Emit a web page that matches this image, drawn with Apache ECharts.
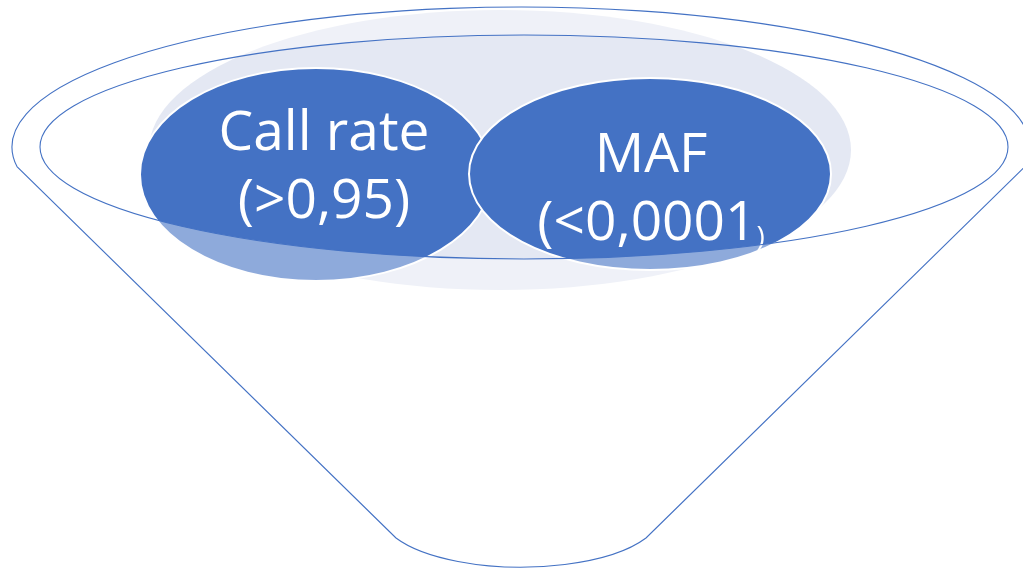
<!DOCTYPE html>
<html>
<head>
<meta charset="utf-8">
<script src="https://cdn.jsdelivr.net/npm/echarts@6/dist/echarts.min.js"></script>
<style>
  html, body { margin: 0; padding: 0; background: #ffffff; }
  #chart { width: 1023px; height: 569px; }
</style>
</head>
<body>
<div id="chart"></div>
<script>
// Filters applied in the funnel
const filterNames = ['Call rate', 'MAF'];
const filterThresholds = ['(>0,95', '(<0,0001'];
const thresholdClose = [')', ')'];

// Layout of the drawing, expressed in units of a hidden 1023 x 569 plane
const PLANE_W = 1023;
const PLANE_H = 569;
const haloShape = { cx: 500, cy: 150, rx: 351, ry: 140 };
const bubbleShapes = [
  { cx: 316, cy: 174.5, rx: 176, ry: 106.5 },
  { cx: 650, cy: 174, rx: 181, ry: 96 }
];
const labelCenters = [[324, 168], [651, 190]];
const closeParenSmall = [false, true];
const rimOuter = { cx: 521, cy: 147, rx: 509, ry: 140 };
const rimInner = { cx: 524, cy: 147, rx: 484, ry: 112 };
const cone = { leftTopX: 17, rightTopX: 1025, leftBottomX: 396, rightBottomX: 646, bottomY: 538, baseRx: 140, baseRy: 53 };

const BLUE = '#4472C4';
const HALO = '#E4E8F3';
const FONT = '"Open Sans", "Noto Sans", sans-serif';

const chart = echarts.init(document.getElementById('chart'), null, { renderer: 'canvas' });

function ellipseYBelow(e, x) {
  const t = (x - e.cx) / e.rx;
  return e.cy + e.ry * Math.sqrt(Math.max(0, 1 - t * t));
}

function renderHalo(params, api) {
  const c = api.coord([haloShape.cx, haloShape.cy]);
  const s = api.size([haloShape.rx * 2, haloShape.ry * 2]);
  return {
    type: 'ellipse',
    shape: { cx: c[0], cy: c[1], rx: s[0] / 2, ry: s[1] / 2 },
    style: { fill: HALO, stroke: null }
  };
}

function renderBubble(params, api) {
  const i = params.dataIndex;
  const e = bubbleShapes[i];
  const c = api.coord([e.cx, e.cy]);
  const s = api.size([e.rx * 2, e.ry * 2]);
  const lc = api.coord(labelCenters[i]);
  const close = closeParenSmall[i] ? '{s|' + thresholdClose[i] + '}' : thresholdClose[i];
  return {
    type: 'group',
    children: [
      {
        type: 'ellipse',
        shape: { cx: c[0], cy: c[1], rx: s[0] / 2, ry: s[1] / 2 },
        style: { fill: BLUE, stroke: '#ffffff', lineWidth: 2 }
      },
      {
        type: 'text',
        x: lc[0],
        y: lc[1],
        style: {
          text: filterNames[i] + '\n' + filterThresholds[i] + close,
          fill: '#ffffff',
          font: '55px ' + FONT,
          align: 'center',
          verticalAlign: 'middle',
          lineHeight: 68,
          rich: {
            s: { fontSize: 28, fontFamily: FONT, fill: '#ffffff', lineHeight: 68, verticalAlign: 'bottom', padding: [0, 0, 6, 0] }
          }
        }
      }
    ]
  };
}

function renderFunnel(params, api) {
  const p = (x, y) => api.coord([x, y]);
  const sz = (rx, ry) => { const s = api.size([rx * 2, ry * 2]); return [s[0] / 2, s[1] / 2]; };

  const lt = p(cone.leftTopX, ellipseYBelow(rimOuter, cone.leftTopX));
  const rt = p(cone.rightTopX, ellipseYBelow(rimOuter, cone.rightTopX));
  const rb = p(cone.rightBottomX, cone.bottomY);
  const lb = p(cone.leftBottomX, cone.bottomY);
  const ro = sz(rimOuter.rx, rimOuter.ry);
  const rbase = sz(cone.baseRx, cone.baseRy);
  const ri = sz(rimInner.rx, rimInner.ry);
  const il = p(rimInner.cx - rimInner.rx, rimInner.cy);
  const ir = p(rimInner.cx + rimInner.rx, rimInner.cy);

  // Outer body of the funnel (clockwise) with the opening cut out (counter-clockwise)
  const body = [
    'M', lt[0], lt[1],
    'A', ro[0], ro[1], 0, 1, 1, rt[0], rt[1],
    'L', rb[0], rb[1],
    'A', rbase[0], rbase[1], 0, 0, 1, lb[0], lb[1],
    'Z',
    'M', il[0], il[1],
    'A', ri[0], ri[1], 0, 1, 0, ir[0], ir[1],
    'A', ri[0], ri[1], 0, 1, 0, il[0], il[1],
    'Z'
  ].join(' ');

  return {
    type: 'path',
    shape: { pathData: body },
    style: { fill: 'rgba(255,255,255,0.4)', stroke: BLUE, lineWidth: 1.1 }
  };
}

chart.setOption({
  animation: false,
  backgroundColor: '#ffffff',
  grid: { left: 0, right: 0, top: 0, bottom: 0 },
  xAxis: { type: 'value', min: 0, max: PLANE_W, show: false },
  yAxis: { type: 'value', min: 0, max: PLANE_H, inverse: true, show: false },
  tooltip: { show: false },
  series: [
    { type: 'custom', z: 1, silent: true, clip: false, renderItem: renderHalo, data: [[haloShape.cx, haloShape.cy]] },
    { type: 'custom', z: 2, silent: true, clip: false, renderItem: renderBubble, data: filterNames.map((n, i) => [bubbleShapes[i].cx, bubbleShapes[i].cy]) },
    { type: 'custom', z: 3, silent: true, clip: false, renderItem: renderFunnel, data: [[rimOuter.cx, rimOuter.cy]] }
  ]
});
</script>
</body>
</html>
